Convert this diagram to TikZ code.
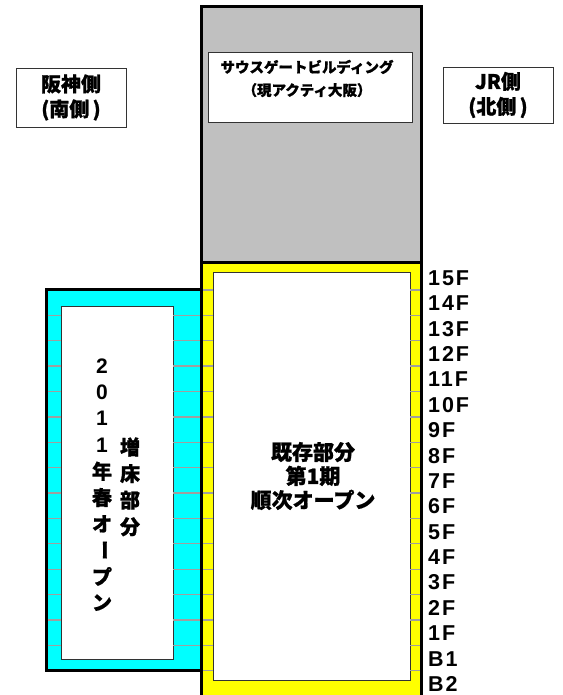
\documentclass[tikz,border=0pt]{standalone}
\usepackage{fontspec}
\setmainfont{Liberation Sans}
\newfontfamily\jp{Noto Sans CJK JP}[BoldFeatures={FakeBold=1}]
\newfontfamily\floorfont{Liberation Sans Bold}[LetterSpace=9]
\definecolor{bgray}{RGB}{192,192,192}
\definecolor{byellow}{RGB}{255,255,0}
\definecolor{bcyan}{RGB}{0,255,255}
\tikzset{
  heavy/.style={draw=black, line width=3pt, inner sep=0pt, outer sep=0pt},
  innerbox/.style={draw=black!80, line width=0.8pt, fill=white, inner sep=0pt},
  labelbox/.style={draw=black!80, line width=0.9pt, fill=white, inner sep=0pt},
  floortick/.style={draw=gray!75, line width=1.3pt},
  floorlab/.style={anchor=west, inner sep=0pt, font=\floorfont\fontsize{21.5}{21.5}\selectfont},
  sidetext/.style={align=center, inner sep=0pt, font=\jp\bfseries\fontsize{20}{25}\selectfont},
  titletext/.style={align=center, inner sep=0pt, font=\jp\bfseries\fontsize{14.5}{23}\selectfont},
  maintext/.style={align=center, inner sep=0pt, font=\jp\bfseries\fontsize{21}{24}\selectfont},
  vchar/.style={inner sep=0pt, font=\jp\bfseries\fontsize{20}{20}\selectfont},
  vdigit/.style={inner sep=0pt, font=\floorfont\fontsize{21}{21}\selectfont}
}
\begin{document}
\begin{tikzpicture}[x=1pt,y=-1pt]
\useasboundingbox (0,0) rectangle (562,695);
\clip (0,0) rectangle (562,695);
% cyan extension
\node[heavy, fill=bcyan, minimum width=155, minimum height=381] (ext) at (123.5,479.5) {};
\node[innerbox, minimum width=112, minimum height=353] (extin) at (117,482.5) {};
% south gate building
\node[heavy, fill=bgray, minimum width=220, minimum height=255] (sgb) at (311,134.5) {};
\node[labelbox, minimum width=204, minimum height=70] (sgbbox) at (310,87) {};
\node[titletext] (sgbtext) at (307,78.5) {サウスゲートビルディング\\（現アクティ大阪）};
% existing building
\node[heavy, fill=byellow, minimum width=220, minimum height=448] (main) at (311,486) {};
\node[innerbox, minimum width=197, minimum height=408] (mainin) at (311.5,476) {};
\node[maintext] (maintxt) at (313,476) {既存部分\\第1期\\順次オープン};
% floor ticks
\foreach \j in {0,...,15}{
  \coordinate (yl\j) at (202.5,290+25.38*\j);
  \coordinate (yr\j) at (213,290+25.38*\j);
  \coordinate (zl\j) at (410,290+25.38*\j);
  \coordinate (zr\j) at (419.5,290+25.38*\j);
  \draw[floortick] (yl\j) -- (yr\j);
  \draw[floortick] (zl\j) -- (zr\j);
}
\foreach \j in {1,...,14}{
  \coordinate (cl\j) at (47.5,290+25.38*\j);
  \coordinate (cr\j) at (61,290+25.38*\j);
  \coordinate (dl\j) at (173,290+25.38*\j);
  \coordinate (dr\j) at (199.5,290+25.38*\j);
  \draw[floortick] (cl\j) -- (cr\j);
  \draw[floortick] (dl\j) -- (dr\j);
}
% floor labels
\foreach \f [count=\i from 0] in {15F,14F,13F,12F,11F,10F,9F,8F,7F,6F,5F,4F,3F,2F,1F,B1,B2}{
  \node[floorlab] (fl\i) at (428,278+25.38*\i) {\f};
}
% side labels
\node[labelbox, minimum width=110, minimum height=59] (south) at (71,97.5) {};
\node[sidetext] (southtxt) at (71,97.5) {阪神側\\(南側\,)};
\node[labelbox, minimum width=110, minimum height=56] (north) at (498,95) {};
\node[sidetext] (northtxt) at (498,95) {JR側\\(北側\,)};
% vertical text
\foreach \c [count=\i from 0] in {2,0,1,1}{
  \node[vdigit] (va\i) at (102,366+26.3*\i) {\c};
}
\foreach \c [count=\i from 4] in {年,春,オ,{\rotatebox{-90}{ー}},プ,ン}{
  \node[vchar] (va\i) at (102,366+26.3*\i) {\c};
}
\foreach \c [count=\i from 0] in {増,床,部,分}{
  \node[vchar] (vb\i) at (130,447+26.6*\i) {\c};
}
\end{tikzpicture}
\end{document}
